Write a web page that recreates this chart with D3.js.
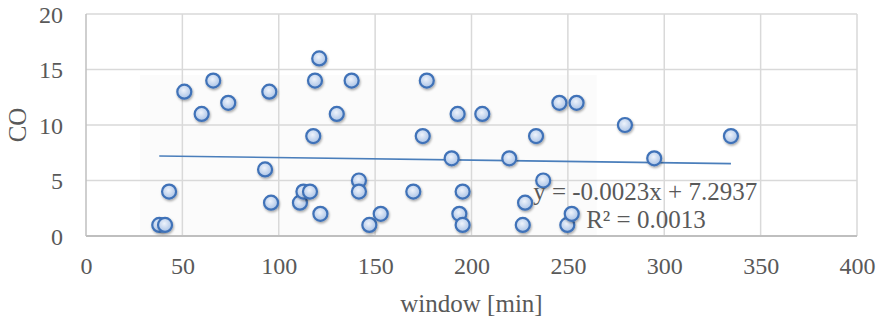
<!DOCTYPE html>
<html>
<head>
<meta charset="utf-8">
<script src="https://d3js.org/d3.v7.min.js"></script>
<style>
  body { margin: 0; background: #fff; }
  text { font-family: "Liberation Serif", "Times New Roman", serif; fill: #595959; }
</style>
</head>
<body>
<svg id="chart" width="878" height="322"></svg>
<script>
// data: window [min] vs CO
const windowMin = [38, 41, 43.1, 51, 60, 66, 73.8, 92.9, 95.1, 96, 111, 112.8, 116.2, 117.9, 118.8, 121, 121.6,
                   130.1, 137.8, 141.6, 141.6, 147, 152.9, 169.8, 174.7, 176.8, 189.7, 192.8, 193.7, 195.4, 195.4,
                   205.6, 219.6, 226.6, 227.8, 233.5, 237.2, 245.6, 249.7, 252, 254.5, 279.6, 294.8, 334.6];
const coValues  = [1, 1, 4, 13, 11, 14, 12, 6, 13, 3, 3, 4, 4, 9, 14, 16, 2,
                   11, 14, 5, 4, 1, 2, 4, 9, 14, 7, 11, 2, 4, 1,
                   11, 7, 1, 3, 9, 5, 12, 1, 2, 12, 10, 7, 9];
const xTicks = [0, 50, 100, 150, 200, 250, 300, 350, 400];
const yTicks = [0, 5, 10, 15, 20];
const trendSlope = -0.0023, trendIntercept = 7.2937;
const trendLabel = "y = -0.0023x + 7.2937";
const r2Label = "R² = 0.0013";

const points = windowMin.map((x, i) => ({x: x, y: coValues[i]}));

const svg = d3.select("#chart");
const margin = {top: 14, right: 21, bottom: 86, left: 86},
      width = +svg.attr("width") - margin.left - margin.right,
      height = +svg.attr("height") - margin.top - margin.bottom;

const defs = svg.append("defs");
const grad = defs.append("radialGradient").attr("id", "dot").attr("cx", "45%").attr("cy", "40%").attr("r", "60%");
grad.append("stop").attr("offset", "0%").attr("stop-color", "#eef3fb");
grad.append("stop").attr("offset", "100%").attr("stop-color", "#a9c2e6");
const shadow = defs.append("filter").attr("id", "shadow").attr("x", "-50%").attr("y", "-50%").attr("width", "200%").attr("height", "200%");
shadow.append("feDropShadow").attr("dx", 0.8).attr("dy", 1.5).attr("stdDeviation", 1.2).attr("flood-color", "#000").attr("flood-opacity", 0.35);

const g = svg.append("g").attr("transform", `translate(${margin.left},${margin.top})`);

const x = d3.scaleLinear().domain([0, 400]).range([0, width]);
const y = d3.scaleLinear().domain([0, 20]).range([height, 0]);

// faint shaded patch behind the points
g.append("rect")
 .attr("x", x(28)).attr("y", y(14.5))
 .attr("width", x(265) - x(28)).attr("height", y(0) - y(14.5))
 .attr("fill", "#fbfbfb");

// gridlines
g.append("g").selectAll("line").data(yTicks.slice(1)).join("line")
 .attr("x1", 0).attr("x2", width)
 .attr("y1", d => y(d)).attr("y2", d => y(d))
 .attr("stroke", "#d9d9d9").attr("stroke-width", 1.5);
g.append("g").selectAll("line").data(xTicks.slice(1)).join("line")
 .attr("x1", d => x(d)).attr("x2", d => x(d))
 .attr("y1", 0).attr("y2", height)
 .attr("stroke", "#d9d9d9").attr("stroke-width", 1.5);

// axis lines
g.append("line").attr("x1", 0).attr("x2", width).attr("y1", height).attr("y2", height)
 .attr("stroke", "#bfbfbf").attr("stroke-width", 2);
g.append("line").attr("x1", 0).attr("x2", 0).attr("y1", 0).attr("y2", height)
 .attr("stroke", "#bfbfbf").attr("stroke-width", 1.5);

// tick labels
const xAxis = g.append("g").attr("transform", `translate(0,${height})`)
 .call(d3.axisBottom(x).tickValues(xTicks).tickSize(0).tickPadding(0));
xAxis.select(".domain").remove();
xAxis.selectAll("text").attr("dy", null).attr("y", 38).style("font-size", "24px").attr("fill", "#595959");

const yAxis = g.append("g")
 .call(d3.axisLeft(y).tickValues(yTicks).tickSize(0).tickPadding(23));
yAxis.select(".domain").remove();
yAxis.selectAll("text").attr("dy", "0.35em").style("font-size", "24px").attr("fill", "#595959");

// axis titles
svg.append("text")
 .attr("x", margin.left + width / 2).attr("y", 312)
 .attr("text-anchor", "middle").style("font-size", "25px")
 .text("window [min]");
svg.append("text")
 .attr("transform", `translate(26,${margin.top + height / 2}) rotate(-90)`)
 .attr("text-anchor", "middle").style("font-size", "25px")
 .text("CO");

// trendline
const xr = d3.extent(windowMin);
g.append("line")
 .attr("x1", x(xr[0])).attr("y1", y(trendSlope * xr[0] + trendIntercept))
 .attr("x2", x(xr[1])).attr("y2", y(trendSlope * xr[1] + trendIntercept))
 .attr("stroke", "#4a7ebb").attr("stroke-width", 1.6);

// points
g.append("g").selectAll("circle").data(points).join("circle")
 .attr("cx", d => x(d.x)).attr("cy", d => y(d.y)).attr("r", 7)
 .attr("fill", "url(#dot)").attr("stroke", "#3f72b8").attr("stroke-width", 2.2)
 .attr("filter", "url(#shadow)");

// trendline equation
g.append("text").attr("x", x(232)).attr("y", y(3.2))
 .style("font-size", "25px").text(trendLabel);
g.append("text").attr("x", x(259.5)).attr("y", y(0.75))
 .style("font-size", "25px").text(r2Label);
</script>
</body>
</html>
